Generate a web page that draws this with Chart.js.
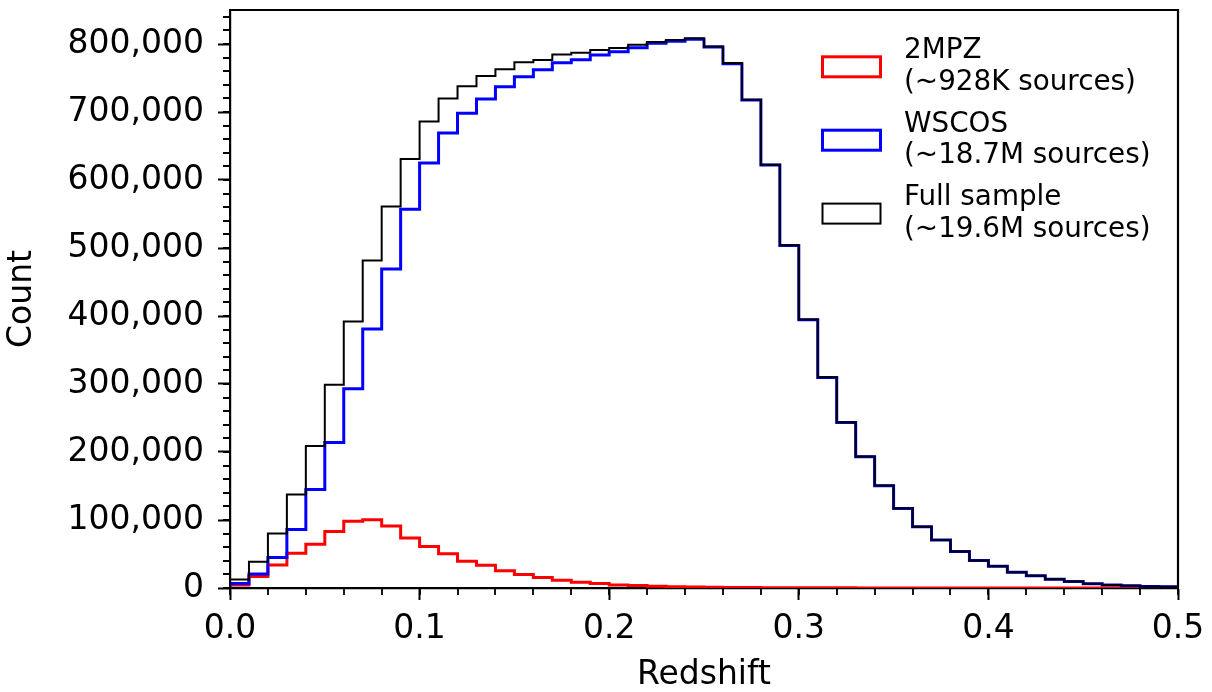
<!DOCTYPE html>
<html>
<head>
  <meta charset="utf-8"/>
  <style>
    html,body{margin:0;padding:0;background:#fff;}
    canvas{display:block;}
  </style>
</head>
<body>
  <canvas id="c" width="1212" height="692" style="width:1212px;height:692px"></canvas>
  <script src="https://cdn.jsdelivr.net/npm/chart.js@4.4.0/dist/chart.umd.min.js"></script>
  <script>
    // histogram bins: 0.00 .. 0.50, width 0.01
    const binWidth = 0.01;
    const zMax     = 0.5;
    const yMax     = 850000;

    const xTicks = [0, 0.1, 0.2, 0.3, 0.4, 0.5];
    const yTicks = [0, 100000, 200000, 300000, 400000, 500000, 600000, 700000, 800000];

    const count2MPZ = [4400, 17000, 34000, 51000, 64500, 83000, 98000, 100500, 91000, 73500,
      61000, 50500, 39500, 33500, 25500, 20000, 15500, 11500, 8500, 6500,
      4500, 3500, 2600, 2000, 1500, 1200, 900, 700, 550, 450,
      350, 280, 220, 170, 130, 100, 80, 60, 50, 40,
      30, 25, 20, 15, 12, 10, 8, 6, 5, 4];

    const countWSCOS = [6500, 20500, 45000, 86000, 145000, 214000, 293000, 381000, 469000, 557000,
      625000, 669000, 698000, 719000, 737000, 752000, 762000, 772500, 777000, 784000,
      788500, 794500, 801000, 804000, 807000, 795500, 771000, 717500, 622000, 503500,
      394500, 309500, 243500, 193000, 150500, 117000, 90000, 70500, 53500, 40500,
      32000, 23000, 18000, 13000, 9500, 6200, 4500, 3400, 2300, 1700];

    const countFull = [12500, 38500, 80000, 137500, 209000, 299000, 392000, 481500, 561000, 631000,
      686000, 720000, 738000, 753000, 763000, 773000, 776500, 784500, 787000, 791000,
      794000, 799000, 803000, 806000, 808500, 796500, 772000, 718000, 622500, 504000,
      394900, 309800, 243700, 193200, 150600, 117100, 90100, 70600, 53600, 40500,
      32000, 23000, 18000, 13000, 9500, 6200, 4500, 3400, 2300, 1700];

    const legendLines = {
      m2: ["2MPZ", "(~928K sources)"],
      ws: ["WSCOS", "(~18.7M sources)"],
      full: ["Full sample", "(~19.6M sources)"],
    };

    const FONT = "'DejaVu Sans', sans-serif";

    // left bin edges -> step points, closed down to 0 at the ends
    function steps(counts) {
      const pts = [{x:0, y:0}];
      counts.forEach((c, i) => pts.push({x: +(i*binWidth).toFixed(2), y: c}));
      pts.push({x: zMax, y: counts[counts.length-1]});
      pts.push({x: zMax, y: 0});
      return pts;
    }

    // right/top spines + minor ticks
    const frame = {
      id: "frame",
      afterDraw(chart) {
        const {ctx, chartArea:a, scales} = chart;
        ctx.save();
        ctx.strokeStyle = "#000";
        ctx.lineWidth = 2.2;
        ctx.beginPath();
        ctx.moveTo(a.left, a.top); ctx.lineTo(a.right, a.top); ctx.lineTo(a.right, a.bottom);
        ctx.stroke();
        ctx.lineWidth = 1.8;
        ctx.beginPath();
        for (let v = 0; v <= yMax; v += 20000) {
          const y = Math.round(scales.y.getPixelForValue(v));
          ctx.moveTo(a.left - 7, y); ctx.lineTo(a.left, y);
        }
        for (let i = 0; i <= 25; i++) {
          const x = Math.round(scales.x.getPixelForValue(i*0.02));
          ctx.moveTo(x, a.bottom); ctx.lineTo(x, a.bottom + 7);
        }
        ctx.stroke();
        ctx.restore();
      }
    };

    // two-line legend with hollow patches, like matplotlib step hist
    const stepLegend = {
      id: "stepLegend",
      afterDraw(chart) {
        const {ctx, chartArea:a} = chart;
        const items = chart.data.datasets.slice().sort((p, q) => p.legendIdx - q.legendIdx);
        ctx.save();
        ctx.font = "27.8px " + FONT;
        ctx.fillStyle = "#000";
        ctx.textBaseline = "alphabetic";
        items.forEach((ds, k) => {
          const base = a.top + 48.3 + k*73.4;
          ctx.lineWidth = ds.borderWidth;
          ctx.strokeStyle = ds.borderColor;
          ctx.strokeRect(a.right - 355.5, base - 1.5, 58, 20);
          ds.label.forEach((t, j) => ctx.fillText(t, a.right - 274, base + j*31.7));
        });
        ctx.restore();
      }
    };

    new Chart(document.getElementById("c"), {
      type: "line",
      data: {
        datasets: [
          { label: legendLines.full, data: steps(countFull), borderColor: "#000000", borderWidth: 2, order: 0, legendIdx: 2 },
          { label: legendLines.ws, data: steps(countWSCOS), borderColor: "#0000ff", borderWidth: 3, order: 1, legendIdx: 1 },
          { label: legendLines.m2, data: steps(count2MPZ), borderColor: "#ff0000", borderWidth: 3, order: 2, legendIdx: 0 },
        ]
      },
      options: {
        responsive: false,
        animation: false,
        elements: { point: { radius: 0 }, line: { stepped: "before", fill: false, borderJoinStyle: "miter" } },
        layout: { padding: { top: 10, right: 34, left: 0, bottom: 0 } },
        plugins: { legend: { display: false }, tooltip: { enabled: false } },
        scales: {
          x: {
            type: "linear", min: 0, max: zMax,
            afterBuildTicks: s => { s.ticks = xTicks.map(v => ({value: v})); },
            afterFit: s => { s.height = 104; s.paddingLeft = 0; s.paddingRight = 0; },
            grid: { drawOnChartArea: false, tickLength: 12, tickWidth: 2, tickColor: "#000" },
            border: { display: true, color: "#000", width: 2.2 },
            ticks: { color: "#000", padding: 10, maxRotation: 0, autoSkip: false,
                     font: { family: FONT, size: 33 }, callback: v => v.toFixed(1) },
            title: { display: true, text: "Redshift", color: "#000", padding: 0,
                     font: { family: FONT, size: 33, lineHeight: 1 } },
          },
          y: {
            type: "linear", min: 0, max: yMax,
            afterBuildTicks: s => { s.ticks = yTicks.map(v => ({value: v})); },
            afterFit: s => { s.width = 230; s.paddingTop = 0; s.paddingBottom = 0; },
            grid: { drawOnChartArea: false, tickLength: 12, tickWidth: 2, tickColor: "#000" },
            border: { display: true, color: "#000", width: 2.2 },
            ticks: { color: "#000", padding: 14, autoSkip: false,
                     font: { family: FONT, size: 33 }, callback: v => v.toLocaleString("en-US") },
            title: { display: true, text: "Count", color: "#000", padding: { top: 6, bottom: 0 },
                     font: { family: FONT, size: 33, lineHeight: 1 } },
          }
        }
      },
      plugins: [frame, stepLegend]
    });
  </script>
</body>
</html>
